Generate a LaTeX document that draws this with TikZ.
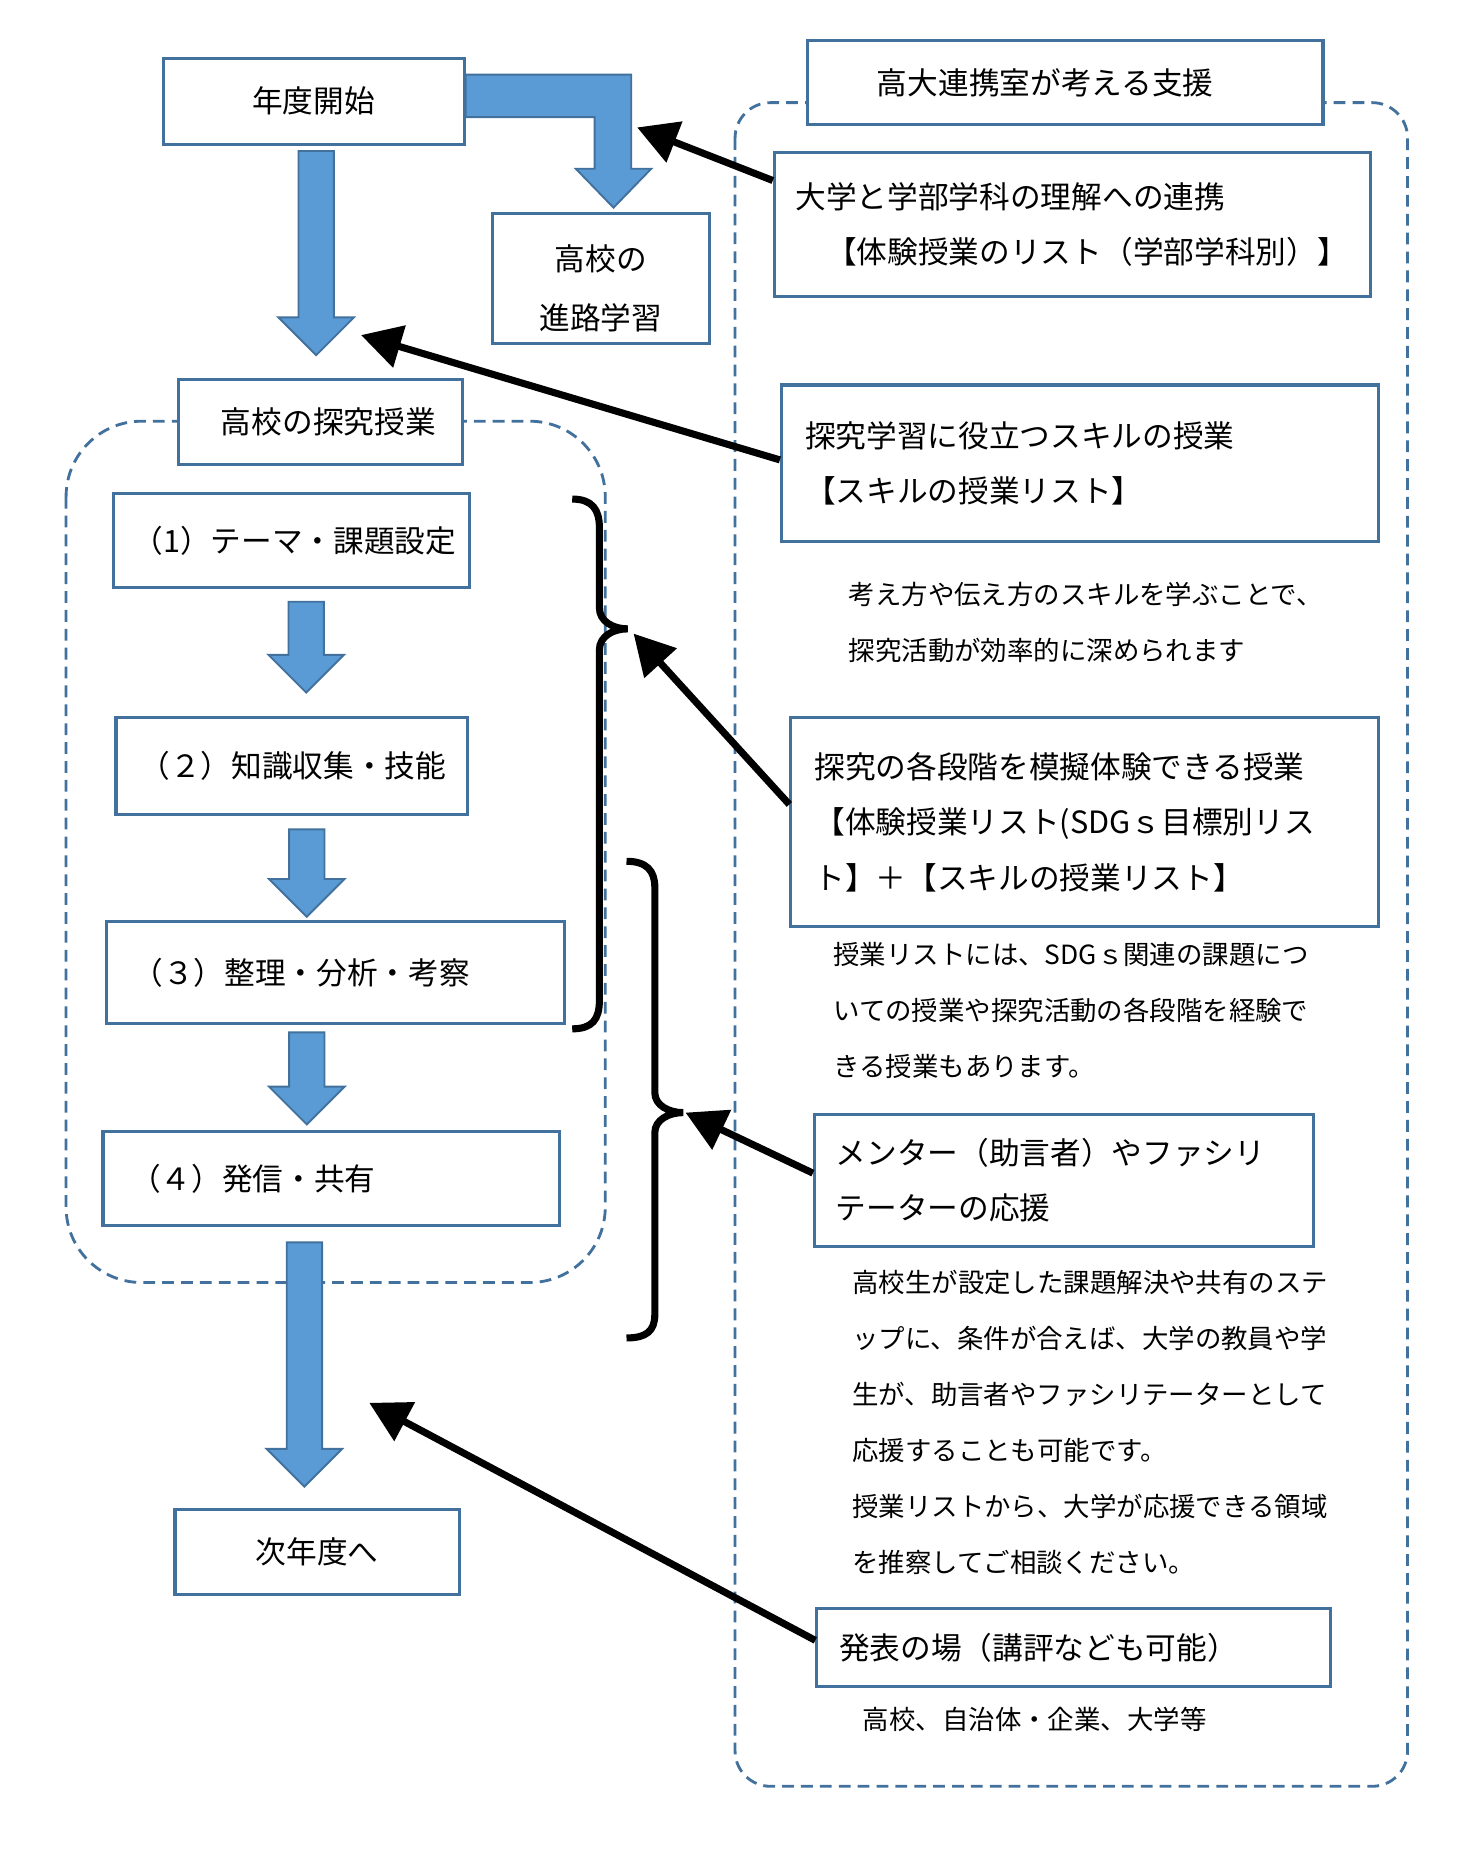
\documentclass[tikz,border=0pt]{standalone}
\usepackage{fontspec}
\setmainfont{Noto Sans CJK JP}
\usetikzlibrary{arrows.meta,calc}
\definecolor{boxc}{RGB}{65,113,156}
\definecolor{bluefill}{RGB}{91,155,213}
\definecolor{dashc}{RGB}{65,113,156}
\newcommand\jpbox{\fontsize{13pt}{23.5pt}\selectfont}
\newcommand\jppara{\fontsize{11.2pt}{23.7pt}\selectfont}
\newcommand\bdarrow[2]{\path[blockarrow] ($(#1)+(-15,0)$) -- ($(#1)+(15,0)$) -- ($(#2)+(15,-32)$) -- ($(#2)+(32,-32)$) -- (#2) -- ($(#2)+(-32,-32)$) -- ($(#2)+(-15,-32)$) -- cycle;}
\begin{document}
\begin{tikzpicture}[x=0.5pt,y=-0.5pt,
  box/.style={draw=boxc, line width=1.3pt, fill=white, inner sep=0pt, anchor=north west, font=\jpbox, align=left},
  cbox/.style={draw=boxc, line width=1.3pt, fill=white, inner sep=0pt, anchor=north west, font=\jpbox, align=center},
  para/.style={inner sep=0pt, anchor=west, font=\jppara, align=left},
  container/.style={draw=dashc, line width=1.2pt, dash pattern=on 5pt off 3pt},
  blockarrow/.style={fill=bluefill, draw=boxc, line width=0.8pt, line join=miter},
  pointer/.style={draw=black, line width=3pt, -{Triangle[length=17pt,width=18pt]}},
  brace/.style={draw=black, line width=3pt},
]
\fill[white] (0,0) rectangle (1244,1568);
\useasboundingbox (0,0) rectangle (1244,1568);

% dashed containers
\draw[container, rounded corners=32pt] (56,357) rectangle (513,1087);
\draw[container, rounded corners=15pt] (623,87) rectangle (1193,1514);

% left column boxes
\node[cbox, minimum width=127.5pt, minimum height=36.5pt] (nendo) at (137,48) {年度開始};
\node[cbox, minimum width=92pt, minimum height=55pt, font={\fontsize{13pt}{25pt}\selectfont}] (shinro) at (416,180) {\rule{0pt}{19pt}高校の\\進路学習};
\node[box, minimum width=120.5pt, minimum height=36pt, text width=120.5pt] (tankyu) at (150,320) {\hspace*{18pt}高校の探究授業};
\node[box, minimum width=151pt, minimum height=40pt, text width=151pt] (s1) at (95,417) {\hspace*{8pt}（1）テーマ・課題設定};
\node[box, minimum width=149pt, minimum height=41pt, text width=149pt] (s2) at (97,607) {\hspace*{10pt}（２）知識収集・技能};
\node[box, minimum width=194pt, minimum height=43pt, text width=194pt] (s3) at (89,780) {\hspace*{11pt}（３）整理・分析・考察};
\node[box, minimum width=193.5pt, minimum height=39.5pt, text width=193.5pt] (s4) at (86,958) {\hspace*{11.5pt}（４）発信・共有};
\node[cbox, minimum width=120.5pt, minimum height=36pt] (next) at (147,1278) {次年度へ};

% right column boxes
\node[box, minimum width=218.5pt, minimum height=35.5pt, text width=218.5pt] (shien) at (683,33) {\hspace*{29.5pt}高大連携室が考える支援};
\node[box, minimum width=252.5pt, minimum height=61pt, text width=252.5pt] (daigaku) at (655,128) {\hspace*{9pt}大学と学部学科の理解への連携\\\hspace*{9pt}　【体験授業のリスト（学部学科別）】};
\node[box, minimum width=253pt, minimum height=66.5pt, text width=253pt] (skill) at (661,325) {\hspace*{10pt}探究学習に役立つスキルの授業\\\hspace*{10pt}【スキルの授業リスト】};
\node[box, minimum width=249pt, minimum height=88.5pt, text width=249pt] (kaku) at (669,607) {\hspace*{10pt}探究の各段階を模擬体験できる授業\\\hspace*{10pt}【体験授業リスト(SDGｓ目標別リス\\\hspace*{10pt}ト】＋【スキルの授業リスト】};
\node[box, minimum width=211.5pt, minimum height=56pt, text width=211.5pt] (mentor) at (689,943) {\hspace*{9pt}メンター（助言者）やファシリ\\\hspace*{9pt}テーターの応援};
\node[box, minimum width=217.5pt, minimum height=33pt, text width=217.5pt] (happyo) at (691,1362) {\hspace*{9.5pt}発表の場（講評なども可能）};

% paragraphs
\node[para] (p1) at (719,527.5) {考え方や伝え方のスキルを学ぶことで、\\探究活動が効率的に深められます};
\node[para] (p2) at (706,856.5) {授業リストには、SDGｓ関連の課題につ\\いての授業や探究活動の各段階を経験で\\きる授業もあります。};
\node[para] (p3) at (722,1205.5) {高校生が設定した課題解決や共有のステ\\ップに、条件が合えば、大学の教員や学\\生が、助言者やファシリテーターとして\\応援することも可能です。\\授業リストから、大学が応援できる領域\\を推察してご相談ください。};
\node[para] (p4) at (731,1457) {高校、自治体・企業、大学等};

% block arrows
\coordinate (a1s) at (268,128);  \coordinate (a1e) at (268,301);
\coordinate (a2s) at (259.5,510); \coordinate (a2e) at (259.5,587);
\coordinate (a3s) at (260,703);  \coordinate (a3e) at (260,777);
\coordinate (a4s) at (260,875);  \coordinate (a4e) at (260,953);
\coordinate (a5s) at (258,1053); \coordinate (a5e) at (258,1260);
\bdarrow{a1s}{a1e}
\bdarrow{a2s}{a2e}
\bdarrow{a3s}{a3e}
\bdarrow{a4s}{a4e}
\bdarrow{a5s}{a5e}
\coordinate (Ls) at ($(nendo.east)+(0,-4.5)$);
\coordinate (tL) at (520,176);
\path[blockarrow] ($(Ls)+(0,-18)$) -- ($(tL |- Ls)+(15,-18)$) -- ($(tL)+(15,-33)$) -- ($(tL)+(32,-33)$) -- (tL) -- ($(tL)+(-32,-33)$) -- ($(tL)+(-16,-33)$) -- ($(tL |- Ls)+(-16,18)$) -- ($(Ls)+(0,18)$) -- cycle;

% braces
\coordinate (br1) at (532,533);
\coordinate (br2) at (579,943);
\draw[brace] (485,423) .. controls (502,423) and (508,432) .. (508,447) -- (508,515) .. controls (508,527) and (520,533) .. (br1) .. controls (520,533) and (508,539) .. (508,551) -- (508,848) .. controls (508,864) and (502,872) .. (485,872);
\draw[brace] (531,730) .. controls (548,730) and (555,738) .. (555,752) -- (555,926) .. controls (555,937) and (567,943) .. (br2) .. controls (567,943) and (555,949) .. (555,960) -- (555,1114) .. controls (555,1128) and (548,1134) .. (531,1134);

% pointer arrows
\coordinate (t1) at (540,108);
\coordinate (t2) at (306,284);
\coordinate (t3) at (537,537);
\coordinate (t4) at (581,943);
\coordinate (t5) at (313,1189);
\draw[pointer] ($(daigaku.north west)+(0,25)$) -- (t1);
\draw[pointer] ($(skill.west)+(0,-3)$) -- (t2);
\draw[pointer] ($(kaku.west)+(0,-15)$) -- (t3);
\draw[pointer] ($(mentor.west)+(0,-6)$) -- (t4);
\draw[pointer] ($(happyo.west)+(0,-6)$) -- (t5);
\end{tikzpicture}
\end{document}
